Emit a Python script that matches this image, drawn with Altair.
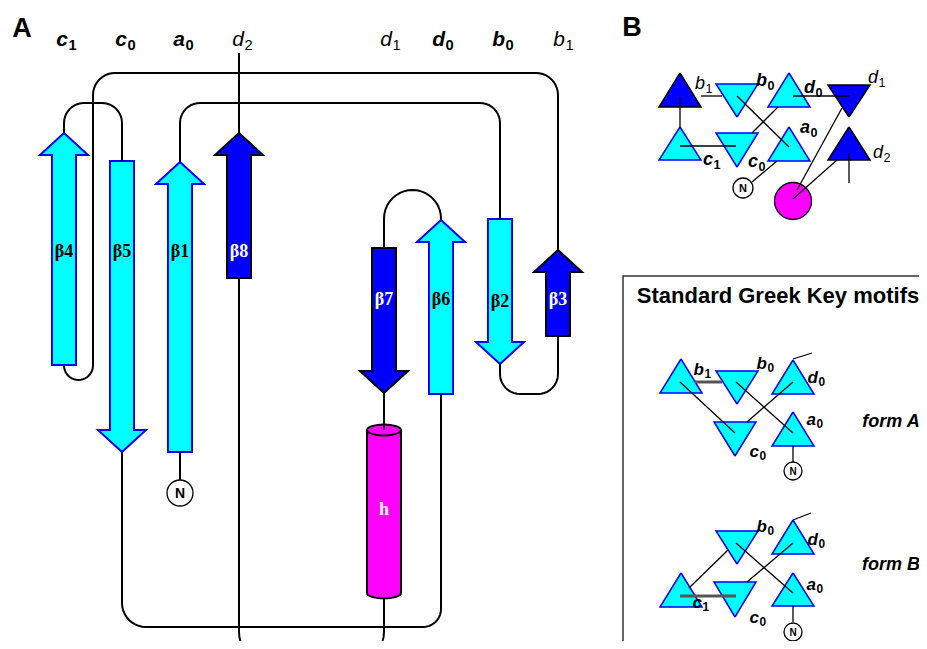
import math
import altair as alt
import pandas as pd

# ---------------- data ----------------
# Panel A strands
strand_names = ["β4", "β5", "β1", "β8", "β7", "β6", "β2", "β3"]
strand_x = [64, 122, 180, 239, 384, 441, 500, 558]
strand_tail = [365, 161, 452, 278, 248, 394, 219, 336]
strand_tip = [133, 452, 162, 133, 393, 220, 364, 250]
strand_dark = [0, 0, 0, 1, 1, 0, 0, 1]
strand_label_y = [252, 252, 252, 252, 300, 300, 302, 300]

# Panel A connections: waypoints and corner radii
loop_points = [
    [(64, 133), (64, 103), (122, 103), (122, 161)],
    [(64, 365), (64, 380), (93, 380), (93, 73), (558, 73), (558, 250)],
    [(180, 162), (180, 103), (500, 103), (500, 219)],
    [(239, 53), (239, 133)],
    [(239, 278), (239, 662), (384, 662), (384, 598)],
    [(384, 393), (384, 430)],
    [(122, 452), (122, 627), (441, 627), (441, 394)],
    [(384, 248), (384, 190), (441, 190), (441, 220)],
    [(500, 364), (500, 394), (558, 394), (558, 336)],
    [(180, 452), (180, 480)],
]
loop_radii = [[20, 20], [14.5, 14.5, 22, 22], [20, 20], [], [30, 30], [],
              [24, 18], [28.5, 28.5], [20, 20], []]

# helix h
helix_x = 384
helix_top = 430
helix_bottom = 593

# Panel B / Greek key triangles: centre x, pointed end y, flat end y, dark
tri_cx = [680, 737, 789, 849, 680, 737, 789, 849,
          681, 737, 793, 735, 793,
          737, 793, 681, 735, 793]
tri_point = [73, 117, 73, 117, 127, 167, 127, 127,
             359, 404, 360, 456, 412,
             564, 520, 573, 617, 573]
tri_flat = [107, 84, 107, 85, 160, 133, 161, 160,
            393, 371, 394, 422, 446,
            531, 554, 607, 582, 606]
tri_dark = [1, 0, 0, 1, 0, 0, 0, 1,
            0, 0, 0, 0, 0,
            0, 0, 0, 0, 0]

# thin segments in panel B and Greek key panel
seg_x1 = [680, 701, 737, 793, 752, 680, 777, 842, 837, 849,
          680, 736, 747, 793, 793,
          689, 736, 747, 793, 793]
seg_y1 = [97, 96, 96, 96, 133, 146, 161, 108, 160, 153,
          382, 382, 422, 359, 446,
          588, 543, 582, 520, 606]
seg_x2 = [680, 722, 789, 850, 778, 736, 752, 797, 793, 849,
          735, 793, 793, 812, 793,
          728, 793, 793, 811, 793]
seg_y2 = [127, 96, 147, 96, 107, 146, 182, 190, 199, 183,
          433, 433, 382, 353, 462,
          550, 593, 543, 513, 622]
# thick grey segments
thick_x1 = [695, 680]
thick_y1 = [382, 596]
thick_x2 = [722, 736]
thick_y2 = [382, 596]

# circles: x, y, diameter, fill, label size
circ_x = [180, 743, 793, 793, 793]
circ_y = [493, 188, 471, 632, 201]
circ_d = [26, 20, 18, 18, 37]
circ_fill = ["white", "white", "white", "white", "#FF00FF"]
circ_text = ["N", "N", "N", "N", ""]
circ_fs = [14, 11, 10, 10, 10]

# subscripted labels: letter, subscript, anchor x, baseline y, bold, size
lab_main = ["c", "c", "a", "d", "d", "d", "b", "b",
            "b", "b", "d", "d", "a", "c", "c", "d",
            "b", "b", "d", "a", "c",
            "b", "d", "a", "c", "c"]
lab_sub = ["1", "0", "0", "2", "1", "0", "0", "1",
           "1", "0", "0", "1", "0", "1", "0", "2",
           "1", "0", "0", "0", "0",
           "0", "0", "0", "1", "0"]
lab_x = [68, 127, 185, 244, 392, 445, 505, 565,
         705, 767, 815, 878, 810, 713, 758, 883,
         704, 767, 818, 816, 759,
         767, 818, 816, 702, 759]
lab_y = [46, 46, 46, 46, 46, 46, 46, 46,
         89, 86, 93, 83, 133, 165, 167, 158,
         375, 369, 383, 425, 457,
         532, 545, 590, 608, 623]
lab_bold = [1, 1, 1, 0, 0, 1, 1, 0,
            0, 1, 1, 0, 1, 1, 1, 0,
            1, 1, 1, 1, 1,
            1, 1, 1, 1, 1]
lab_size = [21] * 8 + [18] * 8 + [17] * 10

# plain texts
txt = ["A", "B", "Standard Greek Key motifs", "form A", "form B"]
txt_x = [22, 632, 778, 891, 891]
txt_y = [37, 36, 303, 427, 570]
txt_size = [27, 27, 22, 18, 18]
txt_italic = [0, 0, 0, 1, 1]

# box of the Greek key panel
box = [(623, 276, 1000, 720)]

# ---------------- styles ----------------
CYAN, BLUE, MAG = "#00FFFF", "#0000FF", "#FF00FF"
HEAD_LEN, HEAD_HW, SHAFT_HW, TRI_HW = 22, 24, 12, 21
W, H = 911, 633
xs = alt.Scale(domain=[8, 8 + W], nice=False, zero=False)
ys = alt.Scale(domain=[8, 8 + H], nice=False, zero=False, reverse=True)
SANS = "Liberation Sans"
SERIF = "Liberation Serif"


def X(f="x"):
    return alt.X(f"{f}:Q", scale=xs, axis=None)


def Y(f="y"):
    return alt.Y(f"{f}:Q", scale=ys, axis=None)


def rounded(points, radii, n=10):
    out = [points[0]]
    for k in range(1, len(points) - 1):
        px, py = points[k]
        ax, ay = points[k - 1]
        bx, by = points[k + 1]
        r = radii[k - 1]
        l1 = math.hypot(ax - px, ay - py)
        l2 = math.hypot(bx - px, by - py)
        u1 = ((ax - px) / l1, (ay - py) / l1)
        u2 = ((bx - px) / l2, (by - py) / l2)
        cx = px + (u1[0] + u2[0]) * r
        cy = py + (u1[1] + u2[1]) * r
        for j in range(n + 1):
            t = (math.pi / 2) * j / n
            out.append((cx - r * (u2[0] * math.cos(t) + u1[0] * math.sin(t)),
                        cy - r * (u2[1] * math.cos(t) + u1[1] * math.sin(t))))
    out.append(points[-1])
    return out


# polygons
rows = []
for k, (x, tail, tip, dk) in enumerate(zip(strand_x, strand_tail, strand_tip, strand_dark)):
    s = 1 if tail > tip else -1
    hb = tip + s * HEAD_LEN
    pts = [(x, tip), (x + HEAD_HW, hb), (x + SHAFT_HW, hb), (x + SHAFT_HW, tail),
           (x - SHAFT_HW, tail), (x - SHAFT_HW, hb), (x - HEAD_HW, hb), (x, tip)]
    for i, (px, py) in enumerate(pts):
        rows.append(dict(id=f"s{k}", i=i, x=px, y=py, fill=BLUE if dk else CYAN,
                         stroke="black" if dk else BLUE, sw=2))
for k, (cx, pt, fl, dk) in enumerate(zip(tri_cx, tri_point, tri_flat, tri_dark)):
    pts = [(cx, pt), (cx + TRI_HW, fl), (cx - TRI_HW, fl), (cx, pt)]
    for i, (px, py) in enumerate(pts):
        rows.append(dict(id=f"t{k}", i=i, x=px, y=py, fill=BLUE if dk else CYAN,
                         stroke="black" if dk else BLUE, sw=1.5))
poly_df = pd.DataFrame(rows)

polys = alt.Chart(poly_df).mark_line(interpolate="linear", strokeJoin="miter").encode(
    x=X(), y=Y(), order="i:Q", detail="id:N",
    fill=alt.Fill("fill:N", scale=None),
    stroke=alt.Stroke("stroke:N", scale=None),
    strokeWidth=alt.StrokeWidth("sw:Q", scale=None),
)

# connectors
crow = []
for k, (pts, rr) in enumerate(zip(loop_points, loop_radii)):
    for i, (px, py) in enumerate(rounded(pts, rr)):
        crow.append(dict(id=f"l{k}", i=i, x=px, y=py))
conn = alt.Chart(pd.DataFrame(crow)).mark_line(
    stroke="black", strokeWidth=2, clip=True, strokeCap="butt").encode(
    x=X(), y=Y(), order="i:Q", detail="id:N")

seg_df = pd.DataFrame(dict(x=seg_x1, y=seg_y1, x2=seg_x2, y2=seg_y2))
segs = alt.Chart(seg_df).mark_rule(stroke="black", strokeWidth=1.3).encode(
    x=X(), y=Y(), x2="x2:Q", y2="y2:Q")
thick_df = pd.DataFrame(dict(x=thick_x1, y=thick_y1, x2=thick_x2, y2=thick_y2))
thick = alt.Chart(thick_df).mark_rule(stroke="#555555", strokeWidth=3).encode(
    x=X(), y=Y(), x2="x2:Q", y2="y2:Q")

# helix
ELL = "M -1 0 A 1 0.32 0 1 0 1 0 A 1 0.32 0 1 0 -1 0 Z"
hw = 17
hel_bot = alt.Chart(pd.DataFrame(dict(x=[helix_x], y=[helix_bottom]))).mark_point(
    shape=ELL, size=(2 * hw) ** 2, filled=True, fill=MAG, stroke="black",
    strokeWidth=2, opacity=1).encode(x=X(), y=Y())
hel_body = alt.Chart(pd.DataFrame(dict(x=[helix_x - hw], x2=[helix_x + hw],
                                       y=[helix_top], y2=[helix_bottom]))).mark_rect(
    fill=MAG).encode(x=X(), x2="x2:Q", y=Y(), y2="y2:Q")
hel_sides = alt.Chart(pd.DataFrame(dict(x=[helix_x - hw, helix_x + hw],
                                        y=[helix_top, helix_top],
                                        y2=[helix_bottom, helix_bottom]))).mark_rule(
    stroke="black", strokeWidth=2).encode(x=X(), y=Y(), y2="y2:Q")
hel_top = alt.Chart(pd.DataFrame(dict(x=[helix_x], y=[helix_top]))).mark_point(
    shape=ELL, size=(2 * hw) ** 2, filled=True, fill=MAG, stroke="black",
    strokeWidth=2, opacity=1).encode(x=X(), y=Y())

# box
box_df = pd.DataFrame(box, columns=["x", "y", "x2", "y2"])
boxm = alt.Chart(box_df).mark_rect(fill="white", stroke="#333333", strokeWidth=1.5,
                                   clip=True).encode(x=X(), x2="x2:Q", y=Y(), y2="y2:Q")

# circles
circ_df = pd.DataFrame(dict(x=circ_x, y=circ_y, d2=[d * d for d in circ_d],
                            fill=circ_fill, t=circ_text, fs=circ_fs))
circles = alt.Chart(circ_df).mark_point(shape="circle", filled=True, stroke="black",
                                        strokeWidth=1.3, opacity=1).encode(
    x=X(), y=Y(), size=alt.Size("d2:Q", scale=None),
    fill=alt.Fill("fill:N", scale=None))
circ_txt = alt.Chart(circ_df).mark_text(font=SANS, fontWeight="bold", baseline="middle",
                                        align="center", dy=1).encode(
    x=X(), y=Y(), text="t:N", size=alt.Size("fs:Q", scale=None))

# strand labels
sl_df = pd.DataFrame(dict(x=strand_x, y=strand_label_y, t=strand_names,
                          c=["white" if d else "black" for d in strand_dark]))
sl_df = pd.concat([sl_df, pd.DataFrame(dict(x=[helix_x], y=[510], t=["h"], c=["white"]))])
slabels = alt.Chart(sl_df).mark_text(font=SERIF, fontWeight="bold", fontSize=18,
                                     baseline="middle", align="center").encode(
    x=X(), y=Y(), text="t:N", color=alt.Color("c:N", scale=None))

# subscript labels
lab_df = pd.DataFrame(dict(m=lab_main, s=lab_sub, x=lab_x, y=lab_y, b=lab_bold, fs=lab_size))
lab_df["fs2"] = lab_df["fs"] * 0.7
lab_df["y2"] = lab_df["y"] + lab_df["fs"] * 0.2
text_layers = []
for b in (0, 1):
    sub = lab_df[lab_df["b"] == b]
    w = "bold" if b else "normal"
    text_layers.append(alt.Chart(sub).mark_text(
        font=SANS, fontStyle="italic", fontWeight=w, align="right",
        baseline="alphabetic").encode(x=X(), y=Y(), text="m:N",
                                      size=alt.Size("fs:Q", scale=None)))
    text_layers.append(alt.Chart(sub).mark_text(
        font=SANS, fontWeight=w, align="left", dx=0.5,
        baseline="alphabetic").encode(x=X(), y=Y("y2"), text="s:N",
                                      size=alt.Size("fs2:Q", scale=None)))

txt_df = pd.DataFrame(dict(t=txt, x=txt_x, y=txt_y, fs=txt_size, it=txt_italic))
for it in (0, 1):
    sub = txt_df[txt_df["it"] == it]
    text_layers.append(alt.Chart(sub).mark_text(
        font=SANS, fontWeight="bold", fontStyle="italic" if it else "normal",
        align="center", baseline="alphabetic").encode(
        x=X(), y=Y(), text="t:N", size=alt.Size("fs:Q", scale=None)))

chart = alt.layer(
    boxm, polys, hel_bot, hel_body, hel_sides, hel_top, conn, circles, segs, thick,
    circ_txt, slabels, *text_layers
).properties(
    width=W, height=H, autosize=alt.AutoSizeParams(type="none"), padding=0,
    background="white"
).configure_view(stroke=None)

chart.save("out.html", embed_options={"renderer": "svg", "actions": False})
